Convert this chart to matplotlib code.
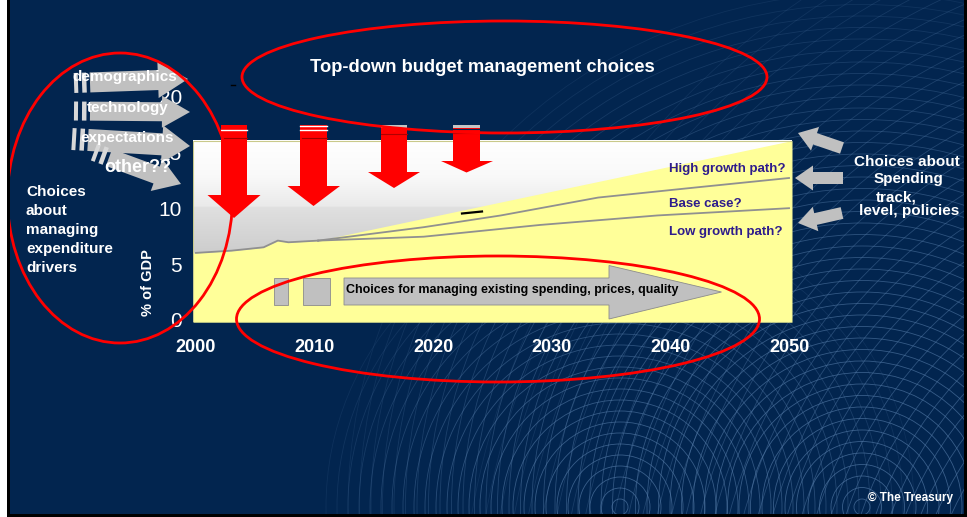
import numpy as np
import matplotlib.pyplot as plt
from matplotlib.patches import Polygon, Ellipse, Rectangle, Circle
from matplotlib.colors import LinearSegmentedColormap

plt.rcParams['font.family'] = ['Liberation Sans', 'DejaVu Sans']

# ---- data (% of GDP) ----
hist_years = [2000, 2003, 2005.7, 2006.9, 2007.8, 2010.3]
hist_vals = [6.0, 6.2, 6.5, 7.1, 6.95, 7.1]
high_years = [2010.3, 2019.2, 2025.7, 2033.9, 2042.1, 2050]
high_vals = [7.1, 8.3, 9.35, 10.95, 11.85, 12.7]
base_years = [2010.3, 2019.2, 2029.0, 2038.9, 2050]
base_vals = [7.1, 7.45, 8.5, 9.35, 10.0]
envelope_years = [2010.3, 2050.25]
envelope_vals = [7.1, 16.05]
year_ticks = [2000, 2010, 2020, 2030, 2040, 2050]
pct_ticks = [0, 5, 10, 15, 20]
path_labels = ["High growth path?", "Base case?", "Low growth path?"]
path_label_y = [13.55, 10.4, 7.85]
driver_labels = ["demographics", "technology", "expectations", "other??"]

navy = "#02254f"
yellow = "#ffff99"
grey_arrow = "#c0c0c0"
red = "#ff0000"
W, H = 967, 517

fig = plt.figure(figsize=(9.67, 5.17), dpi=100)
fig.patch.set_facecolor(navy)

# background pattern (pixel coordinates)
bg = fig.add_axes([0, 0, 1, 1], zorder=0)
bg.set_xlim(0, W)
bg.set_ylim(H, 0)
bg.axis("off")
for cx, cy, radii, rmax in [(620, 507, np.arange(8, 300, 11), 330),
                            (862, 507, np.arange(8, 520, 11.5), 580),
                            (1250, 650, np.arange(300, 800, 14), 900)]:
    for r in radii:
        bg.add_patch(Circle((cx, cy), r, fill=False, ec="#5279a6", lw=0.6,
                            alpha=0.7 * max(0.1, 1 - (r / rmax) ** 2)))

# ---- main chart ----
ax = fig.add_axes([193 / W, (H - 322.2) / H, 599 / W, (322.2 - 89.7) / H], zorder=1)
ax.set_facecolor("none")
x0, x1, y0, ytop = 1999.75, 2050.25, -0.2, 16.05

cmap = LinearSegmentedColormap.from_list(
    "g", [(0, "#cbcbcb"), (0.43, "#e0e0e0"), (0.44, "#eaeaea"), (0.7, "#f9f9f9"), (1, "#ffffff")])
grad = np.linspace(0, 1, 256).reshape(-1, 1)
ax.imshow(grad, extent=[x0, x1, 5.5, ytop], origin="lower", cmap=cmap, aspect="auto", zorder=0)

yel_x = [x0] + hist_years + envelope_years[1:]
yel_y = [hist_vals[0]] + hist_vals + envelope_vals[1:]
ax.fill_between(yel_x, y0, yel_y, color=yellow, lw=0, zorder=1)
ax.add_patch(Rectangle((x0, y0), x1 - x0, ytop - y0, fill=False, ec="#c9c98a", lw=0.8, zorder=2))

ax.plot(hist_years, hist_vals, color="#909090", lw=1.3, zorder=3)
ax.plot(high_years, high_vals, color="#909090", lw=1.3, zorder=3)
ax.plot(base_years, base_vals, color="#909090", lw=1.3, zorder=3)
for lab, yy in zip(path_labels, path_label_y):
    ax.text(2039.85, yy, lab, color="#2e1c8c", fontsize=9.5, fontweight="bold",
            ha="left", va="center", zorder=4)

ax.set_xlim(x0, x1)
ax.set_ylim(y0, 20.6)
ax.set_xticks(year_ticks)
ax.set_xticklabels([str(y) for y in year_ticks], color="white", fontsize=13, fontweight="bold")
ax.set_yticks(pct_ticks)
ax.set_yticklabels([str(p) for p in pct_ticks], color="white", fontsize=15)
ax.tick_params(axis="x", length=0, pad=12)
ax.tick_params(axis="y", length=0, pad=8)
for s in ax.spines.values():
    s.set_visible(False)

# ---- overlay annotations (pixel coordinates) ----
ov = fig.add_axes([0, 0, 1, 1], zorder=3)
ov.set_xlim(0, W)
ov.set_ylim(H, 0)
ov.axis("off")


def block_arrow(tail, tip, shaft_w, head_w, head_len, start=0.0, **kw):
    tail = np.array(tail, float)
    tip = np.array(tip, float)
    d = tip - tail
    u = d / np.hypot(*d)
    n = np.array([-u[1], u[0]])
    t0 = tail + u * start
    base = tip - u * head_len
    pts = [t0 + n * shaft_w / 2, base + n * shaft_w / 2, base + n * head_w / 2, tip,
           base - n * head_w / 2, base - n * shaft_w / 2, t0 - n * shaft_w / 2]
    ov.add_patch(Polygon(pts, closed=True, **kw))
    return u, n


# left fan of driver arrows
fan = [((74, 83), (188, 79), 20, 36, 30),
       ((74, 111), (190, 112), 19, 32, 28),
       ((72, 139), (190, 146), 22, 38, 28),
       ((94, 152), (181, 184), 18, 34, 26)]
for tail, tip, sw, hw, hl in fan:
    u, n = block_arrow(tail, tip, sw, hw, hl, start=16, fc=grey_arrow, ec="none", zorder=2)
    t = np.array(tail, float)
    for a, b in [(0, 4), (8, 12.5)]:
        p = [t + u * a + n * sw / 2, t + u * b + n * sw / 2, t + u * b - n * sw / 2, t + u * a - n * sw / 2]
        ov.add_patch(Polygon(p, closed=True, fc="#d8d8d8", ec="none", zorder=2))

fan_text = [(125, 77, 11), (128, 108, 11), (127, 138, 11), (138, 168, 13)]
for lab, (tx, ty, fs) in zip(driver_labels, fan_text):
    ov.text(tx, ty, lab, color="white", fontsize=fs, fontweight="bold", ha="center", va="center", zorder=4)

left_lines = ["Choices", "about", "managing", "expenditure", "drivers"]
for i, line in enumerate(left_lines):
    ov.text(26, 192 + 19 * i, line, color="white", fontsize=11, fontweight="bold",
            ha="left", va="center", zorder=4)

ov.text(148, 283, "% of GDP", color="white", fontsize=10.5, fontweight="bold", rotation=90,
        ha="center", va="center", zorder=4)

# right side arrows and text
for tail, tip in [((842, 148), (798, 133)), ((843, 178), (795, 178)), ((842, 213), (798, 223))]:
    block_arrow(tail, tip, 12, 25, 18, fc=grey_arrow, ec="none", zorder=2)
ov.text(907, 161.5, "Choices about", color="white", fontsize=11, fontweight="bold", ha="center", va="center", zorder=4)
ov.text(908, 179.5, "Spending", color="white", fontsize=11, fontweight="bold", ha="center", va="center", zorder=4)
ov.text(876, 197.5, "track,", color="white", fontsize=11, fontweight="bold", ha="left", va="center", zorder=4)
ov.text(909, 211.5, "level, policies", color="white", fontsize=11, fontweight="bold", ha="center", va="center", zorder=4)

ov.text(482, 68, "Top-down budget management choices", color="white", fontsize=13.2,
        fontweight="bold", ha="center", va="center", zorder=4)

# red top-down arrows: shaft x0, x1, top, head start, tip, head x0, head x1
red_arrows = [(221, 247, 125, 195, 218, 207.5, 260.5),
              (300, 327, 125, 186, 206, 287.5, 340),
              (381, 407, 125, 172, 188, 368, 420),
              (453, 480, 125, 161, 172.5, 441, 493)]
for i, (a, b, t, h, p, ha_, hb) in enumerate(red_arrows):
    c = (a + b) / 2
    ov.add_patch(Polygon([(a, t), (b, t), (b, h), (hb, h), (c, p), (ha_, h), (a, h)],
                         closed=True, fc=red, ec="none", zorder=5))
    if i < 2:
        ov.plot([a, b], [130 if i == 0 else 126, 130 if i == 0 else 126], color="white", lw=1.0, zorder=6)
        if i == 1:
            ov.plot([a, b], [129.5, 129.5], color="white", lw=1.0, zorder=6)
        ov.plot([a + 2, b], [137.5, 137.5], color="#a00000", lw=0.8, zorder=6)
    else:
        ov.add_patch(Rectangle((a, 125), b - a, 3, fc="#c4c4c4", ec="none", zorder=6))
        if i == 3:
            ov.plot([a, b], [128.8, 128.8], color=navy, lw=0.8, zorder=6)
        ov.plot([a, b], [134 if i == 2 else 132.7] * 2, color="#b00000", lw=0.8, zorder=6)

# managing existing spending arrow
ov.add_patch(Rectangle((273.5, 277.5), 14, 27.5, fc=grey_arrow, ec="#8c8c8c", lw=0.6, zorder=2))
ov.add_patch(Rectangle((302.5, 277.5), 27.5, 27.5, fc=grey_arrow, ec="#8c8c8c", lw=0.6, zorder=2))
ov.add_patch(Polygon([(344, 278), (609, 278), (609, 265.5), (721.5, 292), (609, 319), (609, 305), (344, 305)],
                     closed=True, fc=grey_arrow, ec="#8c8c8c", lw=0.6, zorder=2))
ov.text(346, 290.5, "Choices for managing existing spending, prices, quality", color="black",
        fontsize=9, fontweight="bold", ha="left", va="center", zorder=4)

# small dark artefacts
ov.plot([462, 482], [213.5, 211.5], color="black", lw=1.6, zorder=3)
ov.plot([231, 235], [85, 85], color="black", lw=1.0, zorder=3)

# red ellipses
for (cx, cy, w, h) in [(120, 198, 225, 290), (504.5, 77, 525, 112), (498, 319, 523, 126)]:
    ov.add_patch(Ellipse((cx, cy), w, h, fill=False, ec=red, lw=2.0, zorder=7))

ov.text(953, 498, "\u00a9 The Treasury", color="white", fontsize=8.5, fontweight="bold",
        ha="right", va="center", zorder=4)

# frame edges
ov.add_patch(Rectangle((0, 0), 6.5, H, fc="white", ec="none", zorder=8))
ov.add_patch(Rectangle((6.5, 0), 3, H, fc="black", ec="none", zorder=8))
ov.add_patch(Rectangle((6.5, 513.5), W, 4, fc="black", ec="none", zorder=8))
ov.add_patch(Rectangle((964, 0), 3, H, fc="black", ec="none", zorder=8))

fig.savefig("out.png", dpi=100, facecolor=navy)
